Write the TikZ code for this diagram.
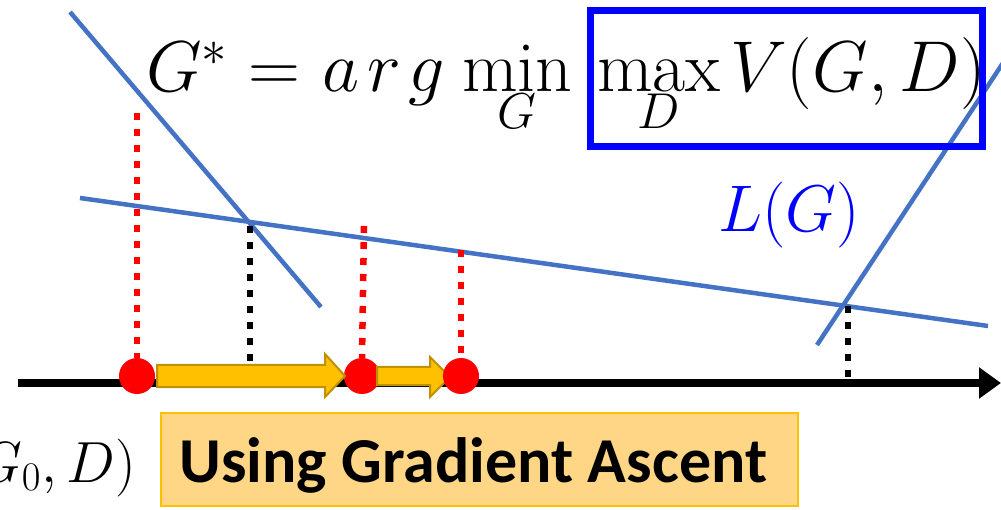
\RequirePackage{fix-cm}
\documentclass[tikz,border=0pt]{standalone}
\usepackage{fontspec}
\newfontfamily\calib{Carlito}
\usetikzlibrary{arrows.meta}
\definecolor{lineblue}{HTML}{4472C4}
\definecolor{arrowgold}{HTML}{FFC000}
\definecolor{arrowedge}{HTML}{BF9000}
\definecolor{boxfill}{HTML}{FFD685}
\definecolor{boxedge}{HTML}{FFC000}
\tikzset{
  curve/.style={lineblue, line width=4.5pt},
  reddots/.style={red, line width=6.5pt, dash pattern=on 7pt off 9pt},
  blackdots/.style={black, line width=6.5pt, dash pattern=on 7pt off 9pt},
  gdot/.style={circle, fill=red, inner sep=0pt, minimum size=36pt},
  stepper/.style={fill=arrowgold, draw=arrowedge, line width=2pt, line join=miter},
  bigmath/.style={anchor=base west, inner sep=0pt, font=\fontsize{72}{80}\selectfont},
}
\begin{document}
\begin{tikzpicture}[x=1pt,y=-1pt]
\useasboundingbox (0,0) rectangle (1001,510);
\clip (0,0) rectangle (1001,510);
% axis
\coordinate (axs) at (18,383);
\coordinate (axe) at (1001,383);
\draw[line width=8pt, -{Triangle[length=22pt,width=30pt]}] (axs) -- (axe);
% blue lines
\coordinate (l1a) at (70,12);   \coordinate (l1b) at (321,307);
\coordinate (l2a) at (80,198);  \coordinate (l2b) at (988,326);
\coordinate (l3a) at (817,345); \coordinate (l3b) at (1030,22);
\draw[curve] (l1a) -- (l1b);
\draw[curve] (l2a) -- (l2b);
% black dotted
\coordinate (x1) at (250,226); \coordinate (x1b) at (250,380);
\coordinate (x2) at (848,306); \coordinate (x2b) at (848,380);
\draw[blackdots] (x1) -- (x1b);
\draw[blackdots] (x2) -- (x2b);
% red dots
\node[gdot] (d0) at (137,376) {};
\node[gdot] (d1) at (362,376) {};
% red dotted lines
\coordinate (r0) at (137,113);
\coordinate (r1) at (364,226);
\coordinate (r2) at (461,250);
\draw[reddots] (r0) -- (d0.north);
\draw[reddots] (r1) -- (d1.north);
% yellow arrows
\draw[stepper] (157,365) -- (325,365) -- (325,354) -- (345,376) -- (325,397) -- (325,387) -- (157,387) -- cycle;
\draw[stepper] (377,367) -- (430,367) -- (430,357) -- (450,377) -- (430,397) -- (430,385) -- (377,385) -- cycle;
\node[gdot] (d2) at (461,376) {};
\draw[reddots] (r2) -- (d2.north);
% third line
\draw[curve] (l3a) -- (l3b);
% formula
\node[bigmath] (fG) at (146,92) {$G^{*}$};
\node[bigmath] (fEq) at (248,92) {$=$};
\node[bigmath] (fArg) at (322,92) {$a\mkern2mu r\mkern2mu g$};
\node[bigmath] (fMin) at (462,92) {$\min\limits_{G}$};
\node[bigmath] (fMax) at (597,92) {$\max\limits_{D}$};
\node[bigmath] (fV) at (730,92) {$V(G,D)$};
\draw[blue, line width=7pt] (590,11) rectangle (982,147);
\node[anchor=base west, inner sep=0pt, text=blue, font=\fontsize{66}{72}\selectfont] (LG) at (718,232) {$L(G)$};
% bottom
\node[anchor=base east, inner sep=0pt, font=\fontsize{58}{64}\selectfont] (V0) at (136,482) {$V(G_0,D)$};
\node[draw=boxedge, fill=boxfill, line width=1.5pt, minimum width=637pt, minimum height=93pt, anchor=north west, inner sep=0pt] (box) at (160,412) {};
\node[font=\calib\bfseries\fontsize{64}{70}\selectfont, inner sep=0pt, anchor=base] (txt) at ([xshift=-6pt]box.center |- 0,482) {Using Gradient Ascent};
\end{tikzpicture}
\end{document}
